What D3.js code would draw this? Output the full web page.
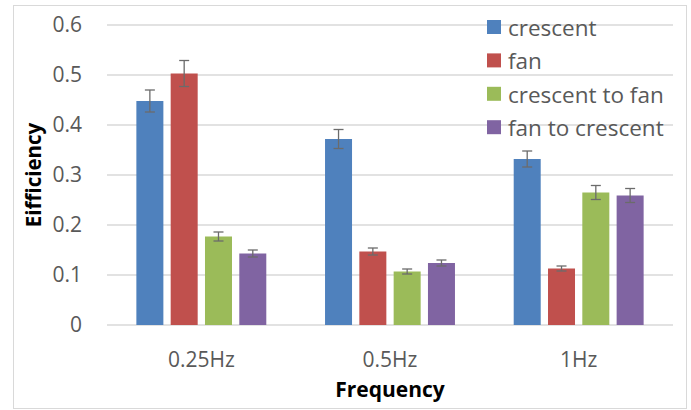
<!DOCTYPE html>
<html><head><meta charset="utf-8">
<script src="https://cdn.jsdelivr.net/npm/d3@7"></script>
<style>body{margin:0;background:#fff}svg{display:block}</style>
</head><body>
<svg id="c" width="691" height="410"></svg>
<script>
const categories = ["0.25Hz", "0.5Hz", "1Hz"];
const seriesNames = ["crescent", "fan", "crescent to fan", "fan to crescent"];
const seriesColors = ["#4f81bd", "#c0504d", "#9bbb59", "#8064a2"];
const crescent = [0.448, 0.372, 0.332];
const fan = [0.503, 0.147, 0.113];
const crescentToFan = [0.177, 0.107, 0.265];
const fanToCrescent = [0.143, 0.124, 0.259];
const errCrescent = [0.022, 0.019, 0.016];
const errFan = [0.026, 0.007, 0.005];
const errCrescentToFan = [0.009, 0.005, 0.014];
const errFanToCrescent = [0.007, 0.006, 0.014];
const yTicks = [0, 0.1, 0.2, 0.3, 0.4, 0.5, 0.6];

const values = [crescent, fan, crescentToFan, fanToCrescent];
const errors = [errCrescent, errFan, errCrescentToFan, errFanToCrescent];

const svg = d3.select("#c");
const font = "'Open Sans', sans-serif";
const m = {left: 107, right: 673, top: 25, bottom: 325};

svg.append("rect").attr("x", 13.5).attr("y", 5.5).attr("width", 673).attr("height", 403)
  .attr("fill", "#fff").attr("stroke", "#d9d9d9").attr("stroke-width", 1);

const y = d3.scaleLinear().domain([0, 0.6]).range([m.bottom, m.top]);
const x0 = d3.scaleBand().domain(categories).range([m.left, m.right]).padding(0);
const x1 = d3.scaleBand().domain(seriesNames).range([0, x0.bandwidth()])
  .paddingInner(0.213).paddingOuter(0.856);

// gridlines
svg.append("g").selectAll("line").data(yTicks).join("line")
  .attr("x1", m.left).attr("x2", m.right)
  .attr("y1", d => y(d)).attr("y2", d => y(d))
  .attr("stroke", "#d9d9d9").attr("stroke-width", 1.3);

// y axis labels
const yAxis = d3.axisLeft(y).tickValues(yTicks).tickFormat(d => d === 0 ? "0" : d3.format(".1f")(d)).tickSize(0).tickPadding(0);
const ya = svg.append("g").attr("transform", `translate(82,0)`).call(yAxis);
ya.select(".domain").remove();
ya.selectAll("text").attr("font-family", font).attr("font-size", 21).attr("fill", "#595959");

// x axis labels
const xAxis = d3.axisBottom(x0).tickSize(0).tickPadding(0);
const xa = svg.append("g").attr("transform", `translate(0,352)`).call(xAxis);
xa.select(".domain").remove();
xa.selectAll("text").attr("font-family", font).attr("font-size", 21).attr("fill", "#595959");

// bars
const groups = svg.append("g").selectAll("g").data(categories).join("g")
  .attr("transform", d => `translate(${x0(d)},0)`);
groups.each(function(cat, ci) {
  const g = d3.select(this);
  seriesNames.forEach((s, si) => {
    const v = values[si][ci], e = errors[si][ci];
    const bx = x1(s), bw = x1.bandwidth();
    g.append("rect").attr("x", bx).attr("y", y(v)).attr("width", bw).attr("height", y(0) - y(v))
      .attr("fill", seriesColors[si]);
    const cx = bx + bw / 2;
    const eg = g.append("g").attr("stroke", "#6b6b6b").attr("stroke-width", 1.3);
    eg.append("line").attr("x1", cx).attr("x2", cx).attr("y1", y(v + e)).attr("y2", y(v - e));
    eg.append("line").attr("x1", cx - 5).attr("x2", cx + 5).attr("y1", y(v + e)).attr("y2", y(v + e));
    eg.append("line").attr("x1", cx - 5).attr("x2", cx + 5).attr("y1", y(v - e)).attr("y2", y(v - e));
  });
});

// legend
const lg = svg.append("g").selectAll("g").data(seriesNames).join("g")
  .attr("transform", (d, i) => `translate(487,${20 + i * 33.4})`);
lg.append("rect").attr("width", 14).attr("height", 14).attr("fill", (d, i) => seriesColors[i]);
lg.append("text").attr("x", 21).attr("y", 16)
  .attr("font-family", font).attr("font-size", 22.5).attr("fill", "#595959").text(d => d);

// axis titles
svg.append("text").attr("x", (m.left + m.right) / 2).attr("y", 397).attr("text-anchor", "middle")
  .attr("font-family", font).attr("font-size", 21).attr("font-weight", "bold").attr("fill", "#000").text("Frequency");
svg.append("text").attr("transform", `translate(41,${(m.top + m.bottom) / 2}) rotate(-90)`)
  .attr("text-anchor", "middle")
  .attr("font-family", font).attr("font-size", 20.5).attr("font-weight", "bold").attr("fill", "#000").text("Eifficiency");
</script>
</body></html>
